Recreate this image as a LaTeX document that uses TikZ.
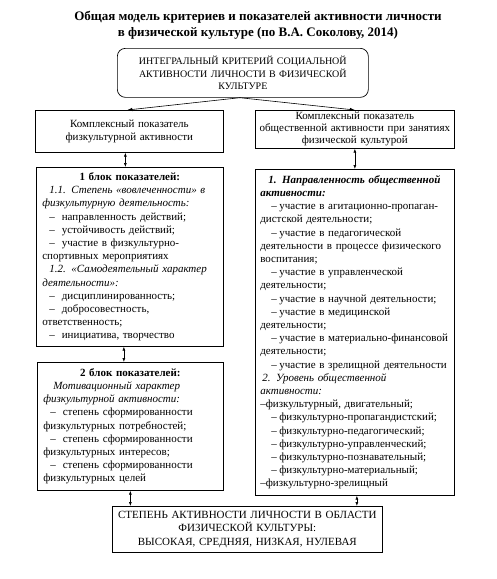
\documentclass[tikz,border=0pt]{standalone}
\usepackage{fontspec}
\setmainfont{Liberation Serif}
\usepackage{tikz}
\usetikzlibrary{positioning,arrows.meta,calc}

\newcommand{\dashL}{\hspace*{7pt}–\hspace{7pt}}
\newcommand{\dashR}{\hspace*{11pt}–\hspace{2.5pt}}

\begin{document}
\begin{tikzpicture}[x=1pt,y=-1pt,
  box/.style={draw,line width=0.7pt,anchor=north west,inner xsep=6pt,inner ysep=2pt,font=\fontsize{11}{13.2}\selectfont},
  arr/.style={-{Latex[length=5pt,width=3.5pt]},line width=0.6pt},
  dbl/.style={{Latex[length=4pt,width=3pt]}-{Latex[length=4pt,width=3pt]},line width=0.6pt}]
  \useasboundingbox (0,0) rectangle (497,579);
  \node[font=\fontsize{13}{16}\selectfont\bfseries,align=center] (title) at (258,25)
    {Общая модель критериев и показателей активности личности\\в физической культуре (по В.А. Соколову, 2014)};
  \node[box,rounded corners=8pt,minimum width=251pt,minimum height=49pt,text width=239pt,align=center,
    font=\fontsize{10}{12.5}\selectfont] (top) at (117,48)
    {ИНТЕГРАЛЬНЫЙ КРИТЕРИЙ СОЦИАЛЬНОЙ\\АКТИВНОСТИ ЛИЧНОСТИ В ФИЗИЧЕСКОЙ\\КУЛЬТУРЕ};
  \node[box,minimum width=188pt,minimum height=42pt,text width=176pt,align=center] (phys) at (35,110)
    {Комплексный показатель\\физкультурной активности};
  \node[box,inner xsep=4pt,inner ysep=1pt,minimum width=199pt,minimum height=38pt,text width=191pt,align=center,
    font=\fontsize{11}{12}\selectfont] (soc) at (255,110)
    {Комплексный показатель\\общественной активности при занятиях\\физической культурой};
  \node[box,minimum width=187pt,minimum height=179pt,text width=175pt,align=left] (blockA) at (36,167)
    {\makebox[\linewidth]{\bfseries 1 блок показателей:}\\
     \hspace*{7pt}\textit{1.1. Степень «вовлеченности» в}\\
     \textit{физкультурную деятельность:}\\
     \dashL направленность действий;\\
     \dashL устойчивость действий;\\
     \dashL участие в физкультурно-\\
     спортивных мероприятиях\\
     \hspace*{7pt}\textit{1.2. «Самодеятельный характер}\\
     \textit{деятельности»:}\\
     \dashL дисциплинированность;\\
     \dashL добросовестность,\\
     ответственность;\\
     \dashL инициатива, творчество};
  \node[box,minimum width=186pt,minimum height=128pt,text width=174pt,align=left] (blockB) at (37,362)
    {\makebox[\linewidth]{\bfseries 2 блок показателей:}\\
     \hspace*{10pt}\textit{Мотивационный характер}\\
     \textit{физкультурной активности:}\\
     \dashL степень сформированности\\
     физкультурных потребностей;\\
     \dashL степень сформированности\\
     физкультурных интересов;\\
     \dashL степень сформированности\\
     физкультурных целей};
  \node[box,inner xsep=5pt,minimum width=199pt,minimum height=326pt,text width=189pt,align=left] (blockC) at (255,169)
    {\hspace*{8pt}\textbf{\textit{1. Направленность общественной}}\\
     \textbf{\textit{активности:}}\\
     \dashR участие в агитационно-пропаган-\\
     дистской деятельности;\\
     \dashR участие в педагогической\\
     деятельности в процессе физического\\
     воспитания;\\
     \dashR участие в управленческой\\
     деятельности;\\
     \dashR участие в научной деятельности;\\
     \dashR участие в медицинской\\
     деятельности;\\
     \dashR участие в материально-финансовой\\
     деятельности;\\
     \dashR участие в зрелищной деятельности\\
     \hspace*{2pt}\textit{2. Уровень общественной}\\
     \textit{активности:}\\
     –физкультурный, двигательный;\\
     \dashR физкультурно-пропагандистский;\\
     \dashR физкультурно-педагогический;\\
     \dashR физкультурно-управленческий;\\
     \dashR физкультурно-познавательный;\\
     \dashR физкультурно-материальный;\\
     –физкультурно-зрелищный};
  \node[box,inner xsep=2pt,minimum width=270pt,minimum height=46pt,text width=266pt,align=center,
    font=\fontsize{11}{13.8}\selectfont] (level) at (112,506)
    {СТЕПЕНЬ АКТИВНОСТИ ЛИЧНОСТИ В ОБЛАСТИ\\ФИЗИЧЕСКОЙ КУЛЬТУРЫ:\\ВЫСОКАЯ, СРЕДНЯЯ, НИЗКАЯ, НУЛЕВАЯ};
  \draw[arr] ([xshift=-3pt]top.south) -- ([xshift=-2pt]phys.north);
  \draw[arr] ([xshift=-3pt]top.south) -- (soc.north);
  \draw[dbl] ([xshift=-4pt]phys.south) -- ([xshift=-4pt]phys.south |- blockA.north);
  \draw[dbl] (soc.south) -- (soc.south |- blockC.north);
  \draw[dbl] ([xshift=-6pt]blockA.south) -- ([xshift=-6pt]blockA.south |- blockB.north);
  \draw[dbl] (blockB.south) -- (blockB.south |- level.north);
  \draw[dbl] ([xshift=2pt]blockC.south) -- ([xshift=2pt]blockC.south |- level.north);
\end{tikzpicture}
\end{document}
